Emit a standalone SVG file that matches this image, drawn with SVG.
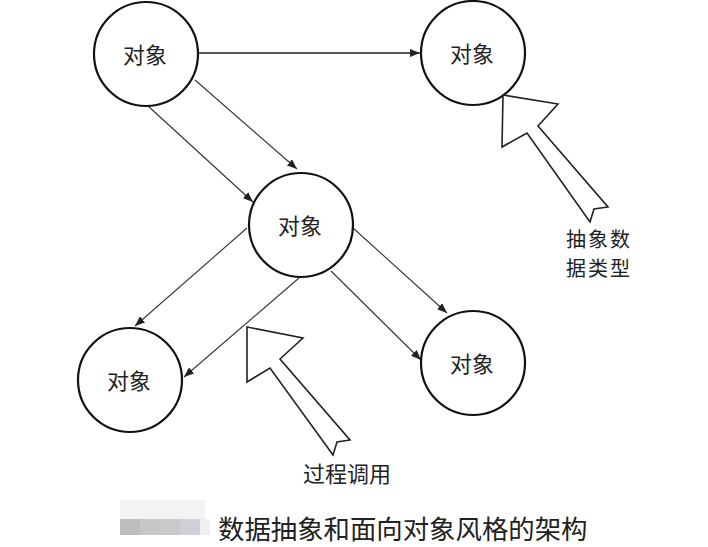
<svg xmlns="http://www.w3.org/2000/svg" width="708" height="547" viewBox="0 0 708 547">
<defs>
<marker id="ah" viewBox="0 0 10 8" refX="10" refY="4" markerWidth="10" markerHeight="8" markerUnits="userSpaceOnUse" orient="auto">
<path d="M0,0 L10,4 L0,8 Z" fill="#222"/>
</marker>
<style>
.node circle{fill:#fff;stroke:#111;stroke-width:2.2}
.lbl{font-family:"Noto Sans CJK SC","Noto Sans CJK JP",sans-serif;font-size:22px;fill:#222;text-anchor:middle;dominant-baseline:central}
.conn line{stroke:#333;stroke-width:1.1;marker-end:url(#ah)}
.big{fill:#fff;stroke:#222;stroke-width:1.6;stroke-linejoin:miter}
.note{font-family:"Noto Sans CJK SC","Noto Sans CJK JP",sans-serif;font-size:22px;fill:#222}
.note2{font-family:"Noto Sans CJK SC","Noto Sans CJK JP",sans-serif;font-size:20px;letter-spacing:2px;fill:#222}
</style>
</defs>
<rect width="708" height="547" fill="#fff"/>
<g id="connectors" class="conn">
<line x1="199" y1="53" x2="420" y2="53" style="stroke:#555;stroke-width:2"/>
<line x1="195" y1="80" x2="297" y2="169"/>
<line x1="148" y1="106" x2="253" y2="202"/>
<line x1="247" y1="228" x2="135" y2="326"/>
<line x1="299" y1="278" x2="184" y2="377"/>
<line x1="353" y1="228" x2="447" y2="313"/>
<line x1="331" y1="271" x2="421" y2="360"/>
</g>
<g id="n1" class="node"><circle cx="146" cy="54" r="52"/><text class="lbl" x="145" y="53">对象</text></g>
<g id="n2" class="node"><circle cx="473" cy="53" r="52"/><text class="lbl" x="472" y="52">对象</text></g>
<g id="n3" class="node"><circle cx="301" cy="225" r="52"/><text class="lbl" x="300" y="224">对象</text></g>
<g id="n4" class="node"><circle cx="130" cy="380" r="52"/><text class="lbl" x="129" y="379">对象</text></g>
<g id="n5" class="node"><circle cx="473" cy="363" r="52"/><text class="lbl" x="472" y="362">对象</text></g>
<g id="adt-arrow">
<polygon class="big" points="503,95 558,104 538,126 608,207 594,209 590,222 527,133 502,147"/>
<text class="note2" x="566" y="247">抽象数</text>
<text class="note2" x="566" y="276">据类型</text>
</g>
<g id="call-arrow">
<polygon class="big" points="247,327 303,338 280,359 350,440 337,442 333,455 270,368 247,382"/>
<text class="note" x="303" y="482">过程调用</text>
</g>
<g id="caption">
<rect x="120" y="500" width="85" height="19" fill="#f3f3f3"/>
<rect x="120" y="519" width="20" height="16" fill="#bebebe"/>
<rect x="140" y="519" width="20" height="16" fill="#c7c6c9"/>
<rect x="160" y="519" width="20" height="16" fill="#c9c9cc"/>
<rect x="180" y="519" width="20" height="16" fill="#cfd1d6"/>
<rect x="200" y="519" width="10" height="16" fill="#f0f0f0"/>
<text x="218" y="539" style="font-family:'Noto Sans CJK SC','Noto Sans CJK JP',sans-serif;font-size:26.4px;fill:#222">数据抽象和面向对象风格的架构</text>
</g>
</svg>
